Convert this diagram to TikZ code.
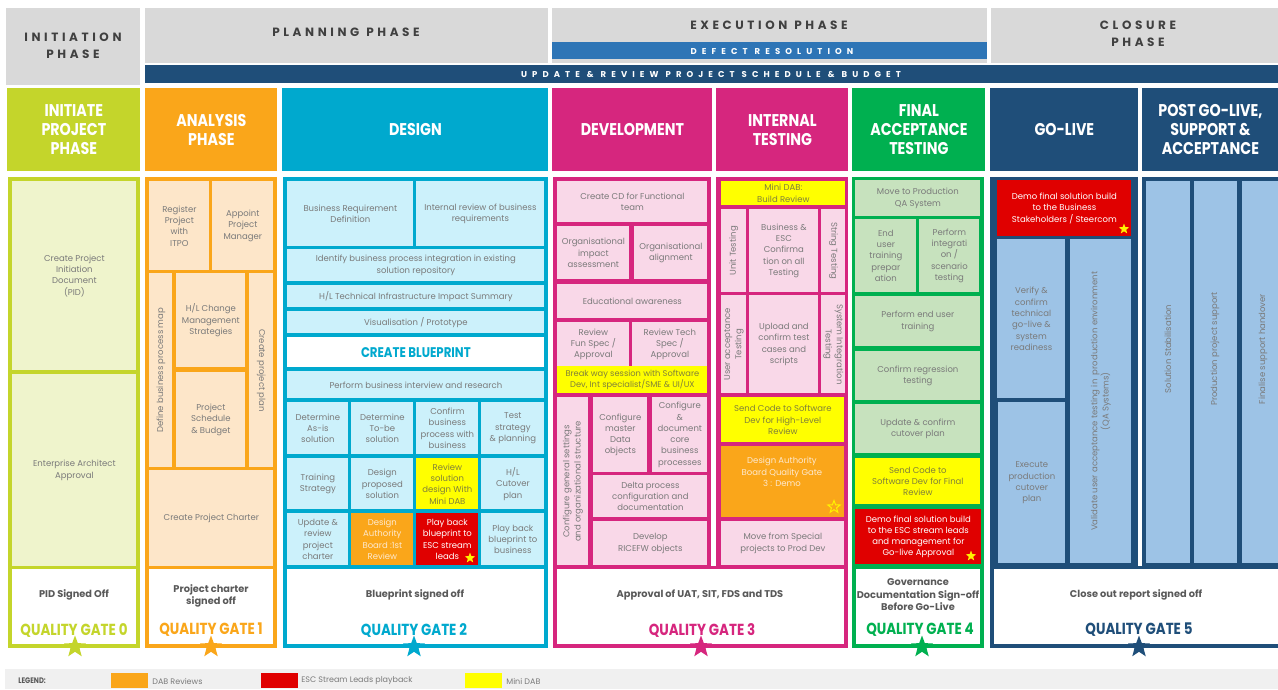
\documentclass[tikz,border=0pt]{standalone}
\usepackage{fontspec}
\setmainfont{Poppins}
\newfontfamily\headfont{Poppins}[FakeStretch=0.84]
\newfontfamily\spacedfont{Poppins}[LetterSpace=30]
\newfontfamily\barfont{Poppins}[LetterSpace=60]
\usetikzlibrary{shapes.geometric}

\definecolor{inicol}{HTML}{C4D52B}
\definecolor{inilight}{HTML}{EFF4CC}
\definecolor{anacol}{HTML}{FAA61A}
\definecolor{analight}{HTML}{FDE6C9}
\definecolor{descol}{HTML}{00A9CE}
\definecolor{deslight}{HTML}{CCF1FB}
\definecolor{devcol}{HTML}{D6267E}
\definecolor{devlight}{HTML}{F9D8E8}
\definecolor{fatcol}{HTML}{00B050}
\definecolor{fatlight}{HTML}{C7E2BE}
\definecolor{gocol}{HTML}{1F4E79}
\definecolor{golight}{HTML}{9DC3E6}
\definecolor{defcol}{HTML}{2E75B6}
\definecolor{hdgrey}{HTML}{D9D9D9}
\definecolor{hdtxt}{HTML}{404040}
\definecolor{txtgrey}{HTML}{7A7A7A}
\definecolor{gatetxt}{HTML}{595959}
\definecolor{escred}{HTML}{E00000}
\definecolor{minidab}{HTML}{FFFF00}
\definecolor{yeltxt}{HTML}{80803A}
\definecolor{dabtxt}{HTML}{FDE9CF}
\definecolor{legbg}{HTML}{F0F0F0}

\newcommand\taskfont{\fontsize{8.5}{11.3}\selectfont}
\newcommand\wsp{\hspace{7pt}}

\tikzset{every picture/.style={line width=0.75pt}}
\tikzset{
  task/.style={anchor=north west, inner sep=0pt, align=center, text=txtgrey, font=\taskfont},
  inibox/.style={task, fill=inilight},
  anabox/.style={task, fill=analight},
  desbox/.style={task, fill=deslight},
  devbox/.style={task, fill=devlight},
  fatbox/.style={task, fill=fatlight},
  gobox/.style={task, fill=golight},
  yelbox/.style={task, fill=minidab, text=yeltxt},
  redbox/.style={task, fill=escred, text=white},
  dabbox/.style={task, fill=anacol, text=dabtxt},
  gatebox/.style={task, fill=white},
  vtext/.style={inner sep=0pt, align=center, text=txtgrey, font=\taskfont},
  greytext/.style={inner sep=0pt, align=center, text=hdtxt, font=\spacedfont\bfseries\fontsize{12}{17}\selectfont},
  bartext/.style={inner sep=0pt, text=white, font=\barfont\bfseries\fontsize{8.5}{10}\selectfont},
  phasehead/.style={anchor=north west, inner sep=0pt, align=center, text=white, font=\headfont\bfseries\fontsize{17}{19}\selectfont},
  gatetext/.style={inner sep=0pt, align=center, text=gatetxt, font=\bfseries\fontsize{9.8}{12.5}\selectfont},
  gatelabel/.style={inner sep=0pt, font=\headfont\bfseries\fontsize{16}{18}\selectfont},
  gatestar/.style={star, star points=5, star point ratio=2.4, inner sep=0pt, minimum size=23pt},
  boxstar/.style={star, star points=5, star point ratio=2.4, inner sep=0pt, minimum size=11pt, fill=yellow},
  swatch/.style={anchor=north west, inner sep=0pt, minimum width=37pt, minimum height=15pt},
  legtext/.style={anchor=west, inner sep=0pt, text=txtgrey, font=\fontsize{8}{9}\selectfont}
}

\begin{document}
\begin{tikzpicture}[x=1pt,y=1pt,yscale=-1,xscale=1]
\useasboundingbox (0,0) rectangle (1278,689);

%Shape: Rectangle - phase headers
\fill[hdgrey] (6,8) rectangle (140,85);
\fill[hdgrey] (145,8) rectangle (548,63);
\fill[hdgrey] (552,8) rectangle (987,63);
\fill[hdgrey] (991,8) rectangle (1278,63);
\fill[defcol] (552,42) rectangle (987,59);
\fill[gocol] (145,65) rectangle (1278,83);

% Text Node
\node (inihd) [greytext] at (73,46) {INITIATION\\PHASE};
\node (planhd) [greytext] at (346,32) {PLANNING\wsp PHASE};
\node (exechd) [greytext] at (769,25) {EXECUTION\wsp PHASE};
\node (closhd) [greytext] at (1138,34) {CLOSURE\\PHASE};
\node (defect) [bartext] at (772,51) {DEFECT\wsp RESOLUTION};
\node (update) [bartext] at (711,74) {UPDATE\wsp \&\wsp REVIEW\wsp PROJECT\wsp SCHEDULE\wsp \&\wsp BUDGET};

% Stage headers
\node (h-ini) [phasehead, fill=inicol, minimum width=133pt, minimum height=83pt] at (7,88) {INITIATE\\PROJECT\\PHASE};
\node (h-ana) [phasehead, fill=anacol, minimum width=132pt, minimum height=83pt] at (145,88) {ANALYSIS\\PHASE};
\node (h-des) [phasehead, fill=descol, minimum width=266pt, minimum height=83pt] at (282,88) {DESIGN};
\node (h-dev) [phasehead, fill=devcol, minimum width=160pt, minimum height=83pt] at (552,88) {DEVELOPMENT};
\node (h-int) [phasehead, fill=devcol, minimum width=132pt, minimum height=83pt] at (716,88) {INTERNAL\\TESTING};
\node (h-fat) [phasehead, fill=fatcol, minimum width=133pt, minimum height=83pt] at (852,88) {FINAL\\ACCEPTANCE\\TESTING};
\node (h-go) [phasehead, fill=gocol, minimum width=148pt, minimum height=83pt] at (990,88) {GO-LIVE};
\node (h-post) [phasehead, fill=gocol, minimum width=136pt, minimum height=83pt] at (1142,88) {POST GO-LIVE,\\SUPPORT \&\\ACCEPTANCE};

%Shape: Rectangle - column frames
\fill[inicol] (8,177) rectangle (140,648);
\fill[anacol] (145,177) rectangle (277,648);
\fill[descol] (283,177) rectangle (548,648);
\fill[devcol] (553,177) rectangle (848,648);
\fill[white] (711,177) rectangle (716,566);
\fill[fatcol] (852,177) rectangle (984,648);
\fill[gocol] (990,177) rectangle (1284,648);
\fill[white] (1138,177) rectangle (1142,566);

% Initiation
\node (pid) [inibox, minimum width=124pt, minimum height=189pt] at (12,181) {Create Project\\Initiation\\Document\\(PID)};
\node (eaa) [inibox, minimum width=124pt, minimum height=192pt] at (12,374) {Enterprise Architect\\Approval};
\node (gate0) [gatebox, minimum width=124pt, minimum height=75pt] at (12,569) {};

% Analysis
\node (reg) [anabox, minimum width=60pt, minimum height=89pt] at (149,181) {Register\\Project\\with\\ITPO};
\node (apm) [anabox, minimum width=61pt, minimum height=89pt] at (212,181) {Appoint\\Project\\Manager};
\node (dbp) [anabox, minimum width=23pt, minimum height=194pt] at (149,273) {};
\node (dbp-t) [vtext, rotate=90] at (dbp) {Define business process map};
\node (hlc) [anabox, minimum width=69pt, minimum height=94pt] at (176,273) {H/L Change\\Management\\Strategies};
\node (psb) [anabox, minimum width=69pt, minimum height=95pt] at (176,372) {Project\\Schedule\\\& Budget};
\node (cpp) [anabox, minimum width=24pt, minimum height=194pt] at (249,273) {};
\node (cpp-t) [vtext, rotate=-90] at (cpp) {Create project plan};
\node (cpc) [anabox, minimum width=124pt, minimum height=96pt] at (149,470) {Create Project Charter};
\node (gate1) [gatebox, minimum width=124pt, minimum height=75pt] at (149,569) {};

% Design
\node (brd) [desbox, minimum width=126pt, minimum height=65pt] at (287,181) {Business Requirement\\Definition};
\node (irb) [desbox, minimum width=128pt, minimum height=65pt] at (416,181) {Internal review of business\\requirements};
\node (ibp) [desbox, minimum width=257pt, minimum height=32pt] at (287,249) {Identify business process integration in existing\\solution repository};
\node (hlt) [desbox, minimum width=257pt, minimum height=22pt] at (287,285) {H/L Technical Infrastructure Impact Summary};
\node (vis) [desbox, minimum width=257pt, minimum height=22pt] at (287,311) {Visualisation / Prototype};
\node (cbp) [task, fill=white, text=descol, font=\headfont\bfseries\fontsize{14}{16}\selectfont, minimum width=257pt, minimum height=30pt] at (287,337) {CREATE BLUEPRINT};
\node (pbi) [desbox, minimum width=257pt, minimum height=27pt] at (287,371) {Perform business interview and research};
\node (dai) [desbox, minimum width=61pt, minimum height=52pt] at (287,402) {Determine\\As-is\\solution};
\node (dtb) [desbox, minimum width=62pt, minimum height=52pt] at (351,402) {Determine\\To-be\\solution};
\node (cbw) [desbox, minimum width=62pt, minimum height=52pt] at (416,402) {Confirm\\business\\process with\\business};
\node (tsp) [desbox, minimum width=63pt, minimum height=52pt] at (481,402) {Test\\strategy\\\& planning};
\node (trs) [desbox, minimum width=61pt, minimum height=51pt] at (287,458) {Training\\Strategy};
\node (dps) [desbox, minimum width=62pt, minimum height=51pt] at (351,458) {Design\\proposed\\solution};
\node (rsd) [yelbox, minimum width=62pt, minimum height=51pt] at (416,458) {Review\\solution\\design With\\Mini DAB};
\node (hcp) [desbox, minimum width=63pt, minimum height=51pt] at (481,458) {H/L\\Cutover\\plan};
\node (urc) [desbox, minimum width=61pt, minimum height=52pt] at (287,513) {Update \&\\review\\project\\charter};
\node (dab1) [dabbox, minimum width=62pt, minimum height=52pt] at (351,513) {Design\\Authority\\Board :1st\\Review};
\node (pbe) [redbox, minimum width=62pt, minimum height=52pt] at (416,513) {Play back\\blueprint to\\ESC stream\\leads};
\node (pbe-s) [boxstar] at (470,558) {};
\node (pbb) [desbox, minimum width=63pt, minimum height=52pt] at (481,513) {Play back\\blueprint to\\business};
\node (gate2) [gatebox, minimum width=257pt, minimum height=75pt] at (287,569) {};

% Development
\node (ccd) [devbox, minimum width=150pt, minimum height=41pt] at (557,181) {Create CD for Functional\\team};
\node (oia) [devbox, minimum width=72pt, minimum height=53pt] at (557,226) {Organisational\\impact\\assessment};
\node (oal) [devbox, minimum width=73pt, minimum height=53pt] at (634,226) {Organisational\\alignment};
\node (eda) [devbox, minimum width=150pt, minimum height=34pt] at (557,284) {Educational awareness};
\node (rfs) [devbox, minimum width=72pt, minimum height=44pt] at (557,322) {Review\\Fun Spec /\\Approval};
\node (rts) [devbox, minimum width=75pt, minimum height=44pt] at (632,322) {Review Tech\\Spec /\\Approval};
\node (bws) [yelbox, font=\fontsize{8.3}{10.5}\selectfont, minimum width=150pt, minimum height=27pt] at (557,366) {Break way session with Software\\Dev, Int specialist/SME \& UI/UX};
\node (cgs) [devbox, minimum width=31pt, minimum height=168pt] at (557,397) {};
\node (cgs-t) [vtext, rotate=90] at (cgs) {Configure general settings\\and organizational structure};
\node (cmd) [devbox, minimum width=54pt, minimum height=75pt] at (593,397) {Configure\\master\\Data\\objects};
\node (cdc) [devbox, minimum width=55pt, minimum height=75pt] at (652,397) {Configure\\\&\\document\\core\\business\\processes};
\node (dpc) [devbox, minimum width=114pt, minimum height=42pt] at (593,475) {Delta process\\configuration and\\documentation};
\node (drf) [devbox, minimum width=114pt, minimum height=44pt] at (593,521) {Develop\\RICEFW objects};
\node (gate3) [gatebox, minimum width=287pt, minimum height=75pt] at (557,569) {};

% Internal testing
\node (mdb) [yelbox, minimum width=124pt, minimum height=24pt] at (721,181) {Mini DAB:\\Build Review};
\node (ut) [devbox, minimum width=25pt, minimum height=83pt] at (721,209) {};
\node (ut-t) [vtext, rotate=90] at (ut) {Unit Testing};
\node (bec) [devbox, minimum width=69pt, minimum height=83pt] at (749,209) {Business \&\\ESC\\Confirma\\tion on all\\Testing};
\node (st) [devbox, minimum width=24pt, minimum height=83pt] at (821,209) {};
\node (st-t) [vtext, rotate=-90] at (st) {String Testing};
\node (uat) [devbox, minimum width=25pt, minimum height=98pt] at (721,295) {};
\node (uat-t) [vtext, rotate=90] at (uat) {User acceptance\\Testing};
\node (uct) [devbox, minimum width=69pt, minimum height=98pt] at (749,295) {Upload and\\confirm test\\cases and\\scripts};
\node (sit) [devbox, minimum width=24pt, minimum height=98pt] at (821,295) {};
\node (sit-t) [vtext, rotate=-90] at (sit) {System Integration\\Testing};
\node (scd) [yelbox, minimum width=123pt, minimum height=45pt] at (721,397) {Send Code to Software\\Dev for High-Level\\Review};
\node (dab3) [dabbox, minimum width=123pt, minimum height=71pt] at (721,446) {};
\node (dab3-t) [vtext, text=dabtxt] at (782,472) {Design Authority\\Board Quality Gate\\3 : Demo};
\node (dab3-s) [gatestar, draw=yellow, line width=1pt, minimum size=13pt] at (834,507) {};
\node (mfs) [devbox, minimum width=123pt, minimum height=44pt] at (721,521) {Move from Special\\projects to Prod Dev};

% Final acceptance testing
\node (mtp) [fatbox, minimum width=125pt, minimum height=36pt] at (855,180) {Move to Production\\QA System};
\node (eut) [fatbox, minimum width=61pt, minimum height=73pt] at (855,219) {End\\user\\training\\prepar\\ation};
\node (pis) [fatbox, minimum width=60pt, minimum height=73pt] at (919,219) {Perform\\integrati\\on /\\scenario\\testing};
\node (peu) [fatbox, minimum width=125pt, minimum height=50pt] at (855,296) {Perform end user\\training};
\node (crt) [fatbox, minimum width=125pt, minimum height=49pt] at (855,351) {Confirm regression\\testing};
\node (ucc) [fatbox, minimum width=125pt, minimum height=49pt] at (855,404) {Update \& confirm\\cutover plan};
\node (scf) [yelbox, minimum width=125pt, minimum height=46pt] at (855,458) {Send Code to\\Software Dev for Final\\Review};
\node (dfs) [redbox, minimum width=126pt, minimum height=55pt] at (855,509) {Demo final solution build\\to the ESC stream leads\\and management for\\Go-live Approval};
\node (dfs-s) [boxstar] at (971,556) {};
\node (gate4) [gatebox, minimum width=124pt, minimum height=75pt] at (856,569) {};

% Go-live
\node (dbs) [redbox, minimum width=134pt, minimum height=56pt] at (997,180) {Demo final solution build\\to the Business\\Stakeholders / Steercom};
\node (dbs-s) [boxstar] at (1124,229) {};
\node (vct) [gobox, minimum width=68pt, minimum height=159pt] at (997,239) {Verify \&\\confirm\\technical\\go-live \&\\system\\readiness};
\node (epc) [gobox, minimum width=67pt, minimum height=161pt] at (998,402) {Execute\\production\\cutover\\plan};
\node (vua) [gobox, minimum width=61pt, minimum height=324pt] at (1070,239) {};
\node (vua-t) [vtext, rotate=90] at (vua) {Validate user acceptance testing in~ production environment\\(QA Systems)};
\node (gate5) [gatebox, minimum width=290pt, minimum height=75pt] at (994,569) {};

% Post go-live
\node (sst) [gobox, minimum width=44pt, minimum height=382pt] at (1146,181) {};
\node (sst-t) [vtext, rotate=90] at (1168,349) {Solution Stabilisation};
\node (pps) [gobox, minimum width=43pt, minimum height=382pt] at (1194,181) {};
\node (pps-t) [vtext, rotate=90] at (1215,349) {Production project support};
\node (fsh) [gobox, minimum width=42pt, minimum height=382pt] at (1242,181) {};
\node (fsh-t) [vtext, rotate=90] at (1263,349) {Finalise support handover};

% Quality gates
\node (g0) [gatetext] at (74,595) {PID Signed Off};
\node (q0) [gatelabel, text=inicol] at (74,630) {QUALITY GATE 0};
\node (s0) [gatestar, fill=inicol] at (75,647) {};
\node (g1) [gatetext] at (211,596) {Project charter\\signed off};
\node (q1) [gatelabel, text=anacol] at (211,630) {QUALITY GATE 1};
\node (s1) [gatestar, fill=anacol] at (211,647) {};
\node (g2) [gatetext] at (415,595) {Blueprint signed off};
\node (q2) [gatelabel, text=descol] at (414,630) {QUALITY GATE 2};
\node (s2) [gatestar, fill=descol] at (414,647) {};
\node (g3) [gatetext] at (700,595) {Approval of UAT, SIT, FDS and TDS};
\node (q3) [gatelabel, text=devcol] at (702,630) {QUALITY GATE 3};
\node (s3) [gatestar, fill=devcol] at (701,647) {};
\node (g4) [gatetext] at (918,595) {Governance\\Documentation Sign-off\\Before Go-Live};
\node (q4) [gatelabel, text=fatcol] at (920,630) {QUALITY GATE 4};
\node (s4) [gatestar, fill=fatcol] at (922,647) {};
\node (g5) [gatetext] at (1136,595) {Close out report signed off};
\node (q5) [gatelabel, text=gocol] at (1139,630) {QUALITY GATE 5};
\node (s5) [gatestar, fill=gocol] at (1139,647) {};

% Legend
\fill[legbg] (5,669) rectangle (1278,689);
\node (leg) [legtext, text=gatetxt, font=\headfont\bfseries\fontsize{8}{9}\selectfont] at (18,681) {LEGEND:};
\node (sw-dab) [swatch, fill=anacol] at (111,673) {};
\node (lg-dab) [legtext] at (152,681) {DAB Reviews};
\node (sw-esc) [swatch, fill=escred] at (261,673) {};
\node (lg-esc) [legtext] at (301,681) {ESC Stream Leads playback};
\node (sw-mini) [swatch, fill=minidab] at (465,673) {};
\node (lg-mini) [legtext] at (506,681) {Mini DAB};
\end{tikzpicture}
\end{document}
